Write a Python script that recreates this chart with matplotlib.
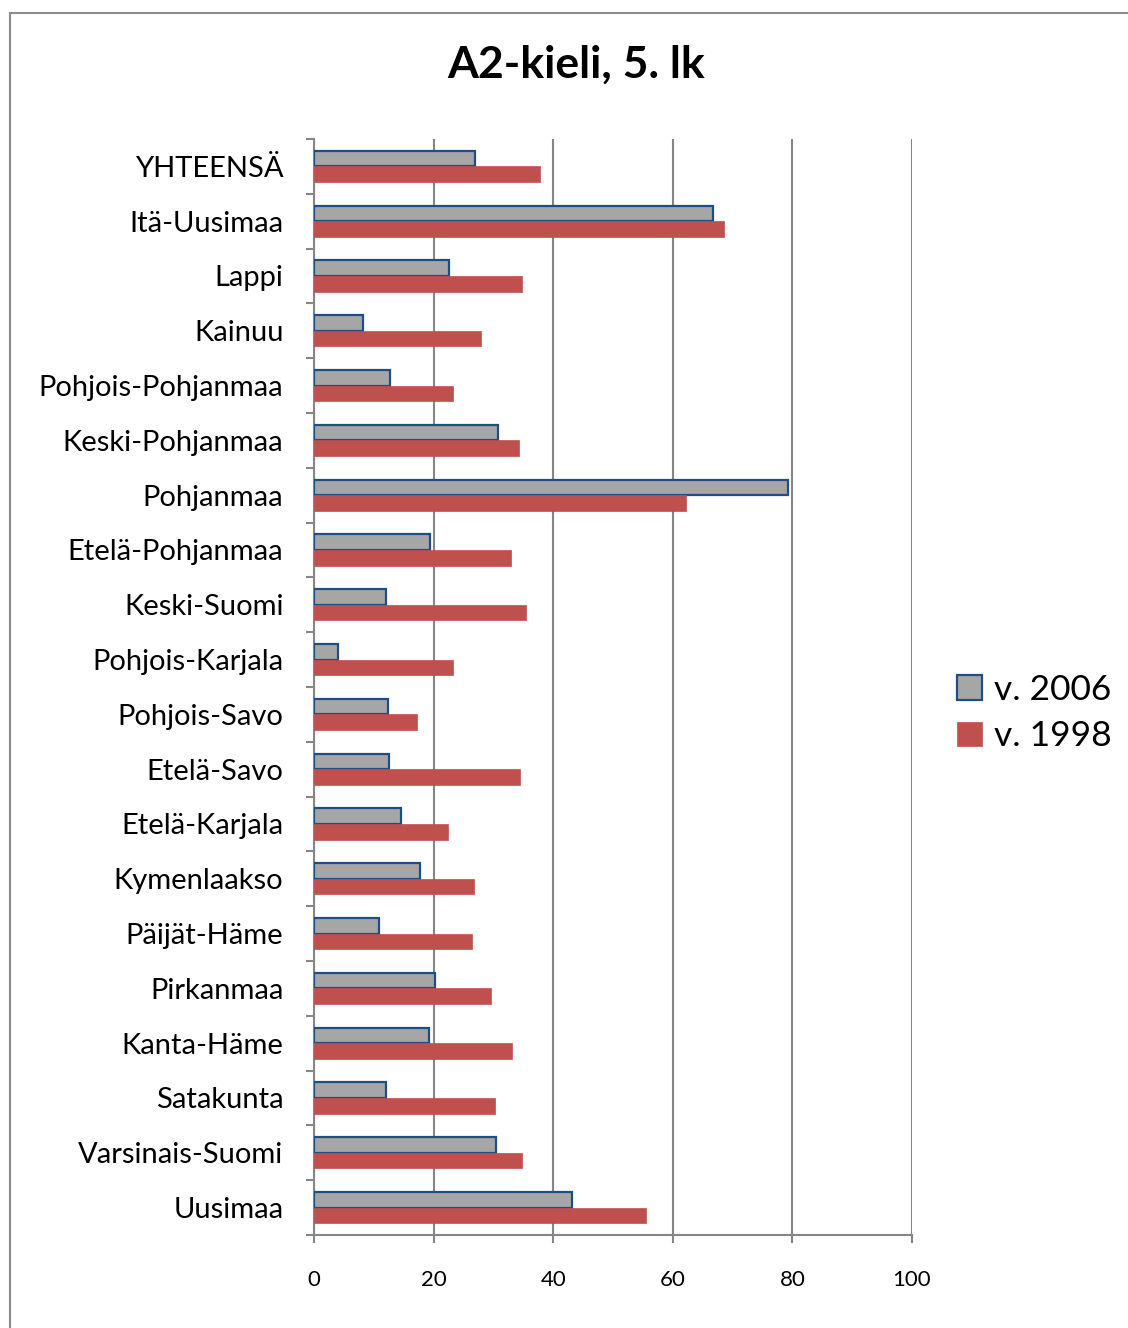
import numpy as np
import matplotlib.pyplot as plt
from matplotlib.patches import Rectangle

# alueet ylhäältä alas
alueet = ['YHTEENSÄ', 'Itä-Uusimaa', 'Lappi', 'Kainuu', 'Pohjois-Pohjanmaa',
          'Keski-Pohjanmaa', 'Pohjanmaa', 'Etelä-Pohjanmaa', 'Keski-Suomi',
          'Pohjois-Karjala', 'Pohjois-Savo', 'Etelä-Savo', 'Etelä-Karjala',
          'Kymenlaakso', 'Päijät-Häme', 'Pirkanmaa', 'Kanta-Häme', 'Satakunta',
          'Varsinais-Suomi', 'Uusimaa']
v2006 = [27.0, 66.8, 22.6, 8.2, 12.7, 30.8, 79.2, 19.4, 12.1, 4.0,
         12.3, 12.6, 14.5, 17.8, 10.8, 20.3, 19.2, 12.0, 30.4, 43.2]
v1998 = [37.8, 68.6, 34.8, 27.9, 23.2, 34.2, 62.2, 33.0, 35.5, 23.3,
         17.2, 34.5, 22.4, 26.8, 26.4, 29.6, 33.1, 30.3, 34.7, 55.5]
xticks = [0, 20, 40, 60, 80, 100]

plt.rcParams['font.family'] = ['Lato', 'DejaVu Sans']
grey = '#868686'

fig = plt.figure(figsize=(11.28, 13.28), dpi=100)
# ulkoreunus
fig.patches.append(Rectangle((10 / 1128, -0.1), 1.2, 1 - 13 / 1328 + 0.1,
                             transform=fig.transFigure, fill=False,
                             edgecolor='#8c8c8c', linewidth=1.5))

ax = fig.add_axes([314 / 1128, 1 - 1235 / 1328, 598 / 1128, 1096 / 1328])
y = np.arange(len(alueet))
h = 0.285
ax.barh(y - h / 2, v2006, height=h, color='#a6a6a6', edgecolor='#1f4e85',
        linewidth=1.6, label='v. 2006', zorder=3)
ax.barh(y + h / 2, v1998, height=h, color='#c0504d', edgecolor='#c0504d',
        linewidth=0.5, label='v. 1998', zorder=3)

ax.set_ylim(len(alueet) - 0.5, -0.5)
ax.set_xlim(0, 100)
ax.set_xticks(xticks)
ax.set_xticklabels([str(t) for t in xticks])
ax.set_yticks(y)
ax.set_yticklabels(alueet)
ax.set_yticks(np.arange(len(alueet) + 1) - 0.5, minor=True)
ax.tick_params(axis='y', which='major', length=0, pad=22, labelsize=21)
ax.tick_params(axis='y', which='minor', length=6, width=1.5, color=grey, direction='out')
ax.tick_params(axis='x', length=6, width=1.5, color=grey, pad=19, labelsize=16)
ax.grid(axis='x', color=grey, linewidth=1.5, zorder=0)
for s in ['top', 'right']:
    ax.spines[s].set_visible(False)
for s in ['left', 'bottom']:
    ax.spines[s].set_color(grey)
    ax.spines[s].set_linewidth(1.5)

fig.text(576 / 1128, 1 - 65 / 1328, 'A2-kieli, 5. lk', ha='center', va='center',
         fontsize=32, fontweight='bold')

fig.legend(loc='center left', bbox_to_anchor=(939 / 1128, 1 - 713 / 1328),
           frameon=False, fontsize=25.5, handlelength=0.7, handleheight=0.7,
           handletextpad=0.35, labelspacing=0.42, borderpad=0)

fig.savefig('out.png', dpi=100)
